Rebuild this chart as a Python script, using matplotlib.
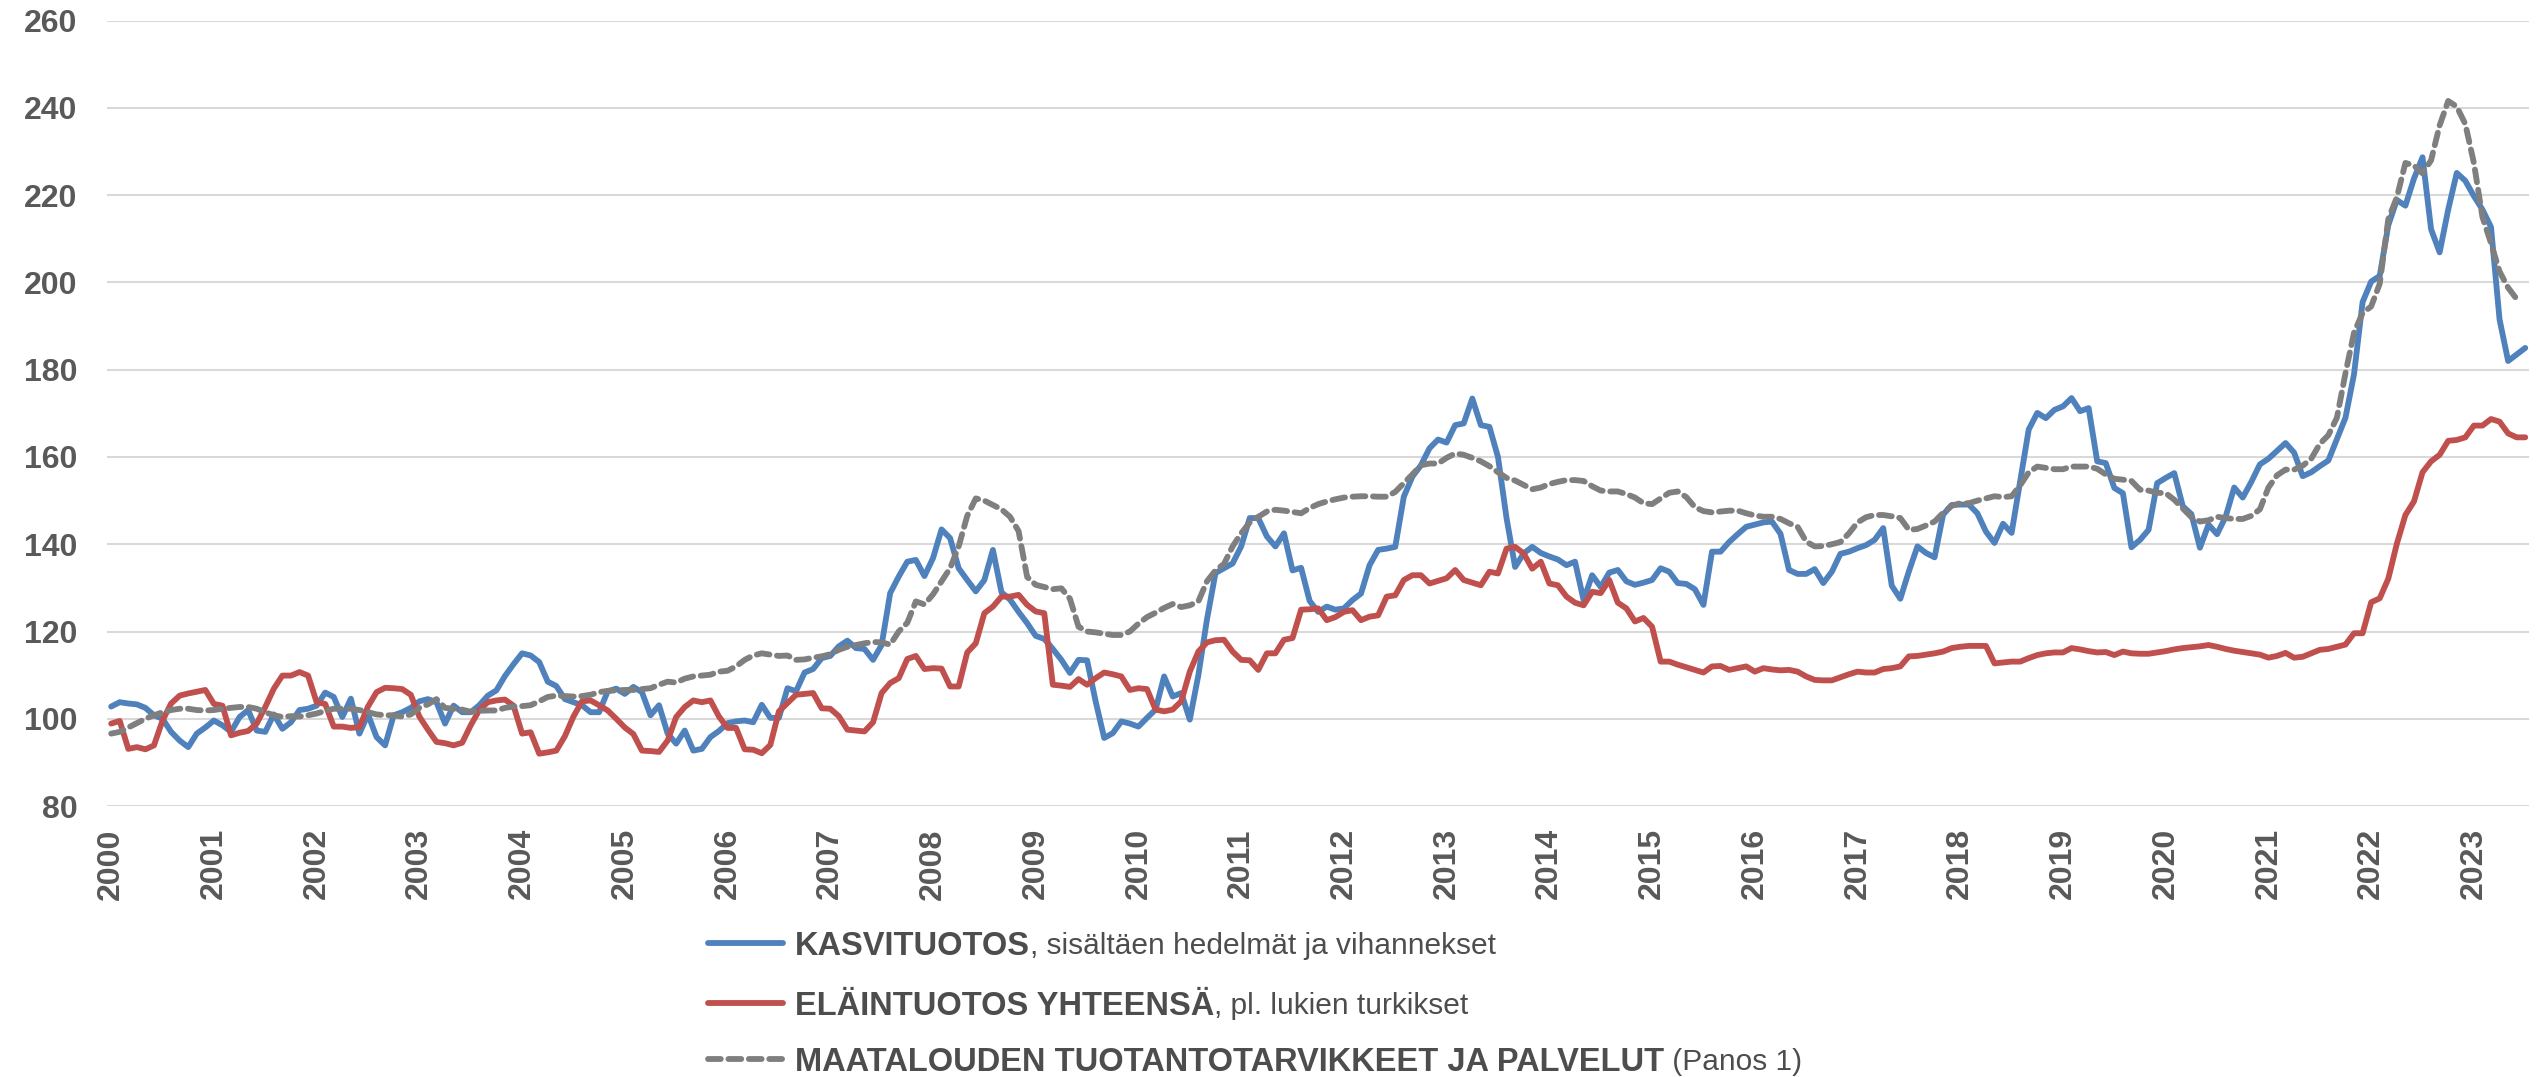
#!/usr/bin/env python

# Agricultural price indices, monthly 2000 -> 2023

import matplotlib
matplotlib.use('Agg')
import matplotlib.pyplot as plt
from matplotlib.lines import Line2D

# Crop output, incl. fruit and vegetables
kasvi = [
    102.8, 103.8, 103.5, 103.3, 102.5, 100.8, 100.0, 97.0, 95.0, 93.5, 96.6, 98.0,
    99.6, 98.5, 97.0, 100.4, 102.0, 97.3, 97.0, 101.0, 97.7, 99.2, 102.0, 102.3,
    103.0, 106.0, 105.0, 100.4, 104.6, 96.6, 101.0, 95.8, 93.9, 100.8, 101.5, 102.5,
    104.0, 104.5, 103.8, 98.9, 103.0, 101.5, 101.5, 103.1, 105.3, 106.5, 109.8, 112.5,
    115.0, 114.5, 113.0, 108.5, 107.5, 104.5, 103.8, 103.1, 101.5, 101.5, 106.3, 106.9,
    105.7, 107.3, 106.1, 100.8, 103.1, 96.6, 94.3, 97.3, 92.7, 93.1, 95.8, 97.2,
    99.0, 99.4, 99.6, 99.2, 103.2, 100.2, 100.2, 107.0, 106.3, 110.6, 111.4, 113.9,
    114.4, 116.6, 117.9, 116.2, 116.0, 113.5, 116.9, 128.8, 132.6, 136.0, 136.4, 132.7,
    136.8, 143.4, 141.4, 134.5, 131.8, 129.2, 131.8, 138.7, 129.0, 127.3, 124.5, 121.9,
    119.0, 118.3, 116.0, 113.5, 110.5, 113.5, 113.4, 104.0, 95.6, 96.7, 99.4, 98.9,
    98.2, 100.2, 102.1, 109.7, 105.1, 105.9, 99.8, 110.0, 122.7, 133.4, 134.5, 135.6,
    139.5, 146.0, 146.0, 141.8, 139.5, 142.5, 134.0, 134.6, 127.0, 124.5, 125.7, 125.0,
    125.3, 127.2, 128.7, 135.2, 138.7, 139.0, 139.4, 150.9, 155.5, 158.1, 162.0, 164.0,
    163.3, 167.3, 167.7, 173.4, 167.3, 166.9, 160.0, 146.0, 134.8, 137.9, 139.4, 138.0,
    137.2, 136.5, 135.2, 136.0, 127.2, 132.9, 130.2, 133.5, 134.1, 131.5, 130.7, 131.2,
    131.8, 134.5, 133.7, 131.1, 130.9, 129.7, 126.1, 138.3, 138.3, 140.5, 142.3, 144.0,
    144.5, 145.0, 145.2, 142.4, 134.1, 133.2, 133.2, 134.3, 131.1, 133.7, 137.8, 138.3,
    139.1, 139.8, 141.0, 143.7, 130.5, 127.5, 133.8, 139.5, 138.0, 137.0, 146.8, 149.0,
    149.1, 149.1, 147.1, 142.9, 140.3, 144.7, 142.6, 154.4, 166.3, 170.1, 168.9, 170.8,
    171.6, 173.5, 170.5, 171.2, 159.0, 158.6, 152.9, 151.7, 139.3, 141.0, 143.3, 154.0,
    155.2, 156.3, 148.7, 146.9, 139.2, 144.5, 142.3, 146.3, 153.0, 150.7, 154.3, 158.3,
    159.6, 161.4, 163.2, 161.0, 155.6, 156.5, 157.9, 159.2, 164.1, 169.0, 179.0, 195.5,
    200.2, 201.5, 213.1, 218.9, 217.6, 223.8, 228.7, 212.2, 206.9, 216.7, 225.1, 223.3,
    219.8, 216.7, 212.7, 191.5, 182.0, 183.5, 185.0,
]

# Livestock output total, excl. furs
elain = [
    98.9, 99.5, 93.1, 93.5, 93.0, 93.9, 99.6, 103.5, 105.3, 105.8, 106.2, 106.6,
    103.4, 103.0, 96.2, 96.8, 97.2, 98.9, 102.7, 106.9, 109.9, 109.9, 110.7, 109.9,
    103.8, 103.4, 98.2, 98.2, 97.9, 98.1, 102.8, 106.1, 107.1, 107.0, 106.8, 105.5,
    100.5, 97.5, 94.7, 94.4, 93.9, 94.5, 98.5, 102.0, 103.8, 104.2, 104.4, 103.0,
    96.6, 96.9, 92.0, 92.3, 92.7, 96.0, 100.5, 104.0, 104.2, 103.1, 101.9, 100.0,
    98.0, 96.5, 92.7, 92.6, 92.4, 95.0, 100.4, 102.7, 104.2, 103.8, 104.2, 100.5,
    97.9, 97.9, 93.0, 92.9, 92.1, 94.0, 101.7, 103.6, 105.5, 105.7, 105.9, 102.4,
    102.3, 100.6, 97.5, 97.3, 97.1, 99.2, 105.9, 108.2, 109.3, 113.7, 114.4, 111.4,
    111.6, 111.5, 107.4, 107.4, 115.2, 117.3, 124.2, 125.7, 128.0, 128.0, 128.4, 126.1,
    124.6, 124.2, 107.8, 107.6, 107.3, 109.1, 107.8, 109.3, 110.6, 110.2, 109.7, 106.6,
    107.0, 106.8, 102.1, 101.7, 102.1, 104.0, 110.8, 115.4, 117.5, 118.0, 118.1, 115.4,
    113.5, 113.4, 111.2, 115.0, 115.0, 118.1, 118.5, 125.0, 125.1, 125.3, 122.6, 123.3,
    124.5, 124.9, 122.6, 123.4, 123.7, 128.0, 128.3, 131.8, 132.9, 132.9, 131.0, 131.6,
    132.2, 134.1, 131.8, 131.2, 130.6, 133.7, 133.3, 139.0, 139.4, 137.9, 134.4, 136.0,
    131.0, 130.6, 128.0, 126.6, 126.0, 129.1, 128.8, 131.8, 126.6, 125.3, 122.3, 123.1,
    121.1, 113.1, 113.1, 112.4, 111.8, 111.2, 110.6, 112.0, 112.1, 111.2, 111.6, 112.0,
    110.8, 111.6, 111.3, 111.1, 111.2, 110.8, 109.7, 108.9, 108.8, 108.8, 109.5, 110.2,
    110.8, 110.6, 110.6, 111.4, 111.6, 112.0, 114.3, 114.4, 114.7, 115.0, 115.4, 116.2,
    116.5, 116.7, 116.7, 116.7, 112.7, 112.9, 113.1, 113.1, 113.9, 114.6, 115.0, 115.2,
    115.2, 116.2, 115.9, 115.5, 115.2, 115.3, 114.6, 115.4, 115.0, 114.9, 114.9, 115.2,
    115.5, 115.9, 116.2, 116.4, 116.6, 116.9, 116.5, 116.0, 115.6, 115.3, 115.0, 114.7,
    114.0, 114.4, 115.1, 114.0, 114.2, 115.0, 115.8, 116.0, 116.5, 117.0, 119.6, 119.6,
    126.7, 127.6, 132.1, 140.1, 146.7, 149.8, 156.5, 159.0, 160.5, 163.7, 163.9, 164.5,
    167.2, 167.2, 168.7, 168.1, 165.4, 164.5, 164.5,
]

# Farm inputs and services (input 1)
panos = [
    96.6, 97.0, 98.0, 99.0, 100.0, 100.8, 101.5, 102.0, 102.3, 102.3, 102.0, 101.9,
    102.0, 102.3, 102.5, 102.7, 102.7, 102.3, 101.5, 100.8, 100.4, 100.6, 100.5, 100.8,
    101.2, 101.8, 102.3, 102.3, 102.3, 102.0, 101.5, 101.0, 100.8, 100.8, 100.5, 101.0,
    102.5, 103.3, 104.5, 102.5, 102.3, 102.1, 101.6, 101.8, 101.9, 101.9, 102.5, 102.8,
    102.9, 103.1, 104.0, 105.0, 105.3, 105.2, 105.1, 105.2, 105.5, 106.1, 106.4, 106.5,
    106.6, 106.6, 106.8, 107.0, 107.8, 108.5, 108.3, 109.2, 109.7, 109.9, 110.1, 110.8,
    111.0, 112.0, 113.5, 114.5, 115.0, 114.7, 114.4, 114.5, 113.5, 113.6, 114.0, 114.3,
    114.8, 115.8, 116.5, 116.9, 117.3, 117.6, 117.5, 117.0, 120.0, 122.0, 126.9, 126.2,
    128.5, 131.5, 134.5, 139.5, 146.5, 150.5, 150.0, 149.0, 148.0, 146.3, 143.0, 132.5,
    130.7, 130.2, 129.7, 129.9, 127.5, 121.1, 120.0, 119.8, 119.5, 119.2, 119.2, 120.0,
    121.8, 123.3, 124.3, 125.4, 126.3, 125.6, 126.0, 126.9, 131.5, 134.0, 135.5, 139.5,
    142.5, 145.0, 146.3, 147.5, 147.9, 147.7, 147.4, 147.1, 148.3, 149.2, 149.8, 150.3,
    150.7, 150.9, 151.0, 151.0, 150.9, 150.9, 152.0, 154.0, 156.0, 158.1, 158.5, 158.5,
    159.8, 160.8, 160.5, 159.8, 159.0, 157.9, 156.5, 155.2, 154.6, 153.6, 152.6, 153.0,
    153.8, 154.3, 154.7, 154.7, 154.5, 153.3, 152.3, 152.1, 152.1, 151.5, 150.7, 149.4,
    149.2, 150.5, 151.8, 152.1, 150.8, 148.5, 147.6, 147.3, 147.5, 147.7, 147.7, 147.1,
    146.6, 146.3, 146.3, 145.8, 144.8, 144.0, 140.6, 139.5, 139.6, 140.0, 140.5, 142.5,
    145.0, 146.2, 146.7, 146.7, 146.4, 146.0, 143.3, 143.5, 144.3, 145.2, 147.2, 148.8,
    149.4, 149.4, 150.0, 150.5, 151.0, 150.8, 151.0, 153.5, 156.5, 157.8, 157.5, 157.2,
    157.2, 157.8, 157.8, 157.8, 157.3, 156.0, 155.0, 154.8, 154.5, 152.5, 152.3, 151.8,
    151.7, 150.2, 148.2, 146.2, 145.2, 145.5, 146.3, 146.0, 145.8, 145.8, 146.5, 148.0,
    153.0, 155.8, 157.1, 157.1, 158.0, 159.6, 163.0, 165.0, 169.0, 179.2, 188.5, 193.0,
    194.5, 199.7, 214.5, 219.5, 227.4, 226.8, 225.0, 228.0, 236.0, 241.6, 240.3, 236.3,
    227.4, 215.0, 209.0, 202.5, 198.8, 196.2,
]

years = list(range(2000, 2024))
# legend labels: upper-case part (bold), rest (normal)
labels = [('KASVITUOTOS', ', sisältäen hedelmät ja vihannekset'),
          ('ELÄINTUOTOS YHTEENSÄ', ', pl. lukien turkikset'),
          ('MAATALOUDEN TUOTANTOTARVIKKEET JA PALVELUT', ' (Panos 1)')]

blue = '#4f81bd'
red = '#c0504d'
grey = '#7f7f7f'
text_col = '#595959'
dash = (0, (2.2, 1.3))

plt.rcParams['font.family'] = ['Liberation Sans', 'DejaVu Sans']

fig = plt.figure(figsize=(25.39, 10.77), dpi=100, facecolor='white')
ax = fig.add_axes([0.0421, 0.2516, 0.954, 0.7292])

lw = 4.2
ax.plot(range(len(kasvi)), kasvi, color=blue, lw=lw,
        solid_joinstyle='round', solid_capstyle='round', zorder=3)
ax.plot(range(len(elain)), elain, color=red, lw=lw,
        solid_joinstyle='round', solid_capstyle='round', zorder=3)
ax.plot(range(len(panos)), panos, color=grey, lw=lw, linestyle=dash,
        dash_capstyle='round', dash_joinstyle='round', zorder=4)

ax.set_ylim(80, 260)
ax.set_yticks(range(80, 261, 20))
ax.set_xlim(-0.5, 282.45)
ax.set_xticks([12 * i for i in range(len(years))])
ax.set_xticklabels([str(y) for y in years], rotation=90)

ax.grid(axis='y', color='#d9d9d9', lw=1.5, zorder=0)
ax.grid(axis='x', visible=False)
for s in ax.spines.values():
    s.set_visible(False)
ax.tick_params(axis='both', length=0, labelsize=23, labelcolor=text_col)
ax.tick_params(axis='y', pad=21)
ax.tick_params(axis='x', pad=16)
for t in ax.get_xticklabels() + ax.get_yticklabels():
    t.set_fontweight('bold')

# Hand-built legend below the plot so each label can mix weights
styles = [dict(color=blue, lw=lw, solid_capstyle='round'),
          dict(color=red, lw=lw, solid_capstyle='round'),
          dict(color=grey, lw=lw, linestyle=dash, dash_capstyle='round')]
rows_y = [0.1245, 0.0690, 0.0165]
hx0, hx1, tx = 0.2790, 0.3085, 0.3131
leg_col = '#4d4d4d'

renderer = fig.canvas.get_renderer()
for (bold, rest), st, y in zip(labels, styles, rows_y):
    fig.add_artist(Line2D([hx0, hx1], [y, y], transform=fig.transFigure, **st))
    t1 = fig.text(tx, y, bold, fontsize=23.5, fontweight='bold',
                  color=leg_col, va='center_baseline', ha='left')
    bb = t1.get_window_extent(renderer=renderer)
    x2 = fig.transFigure.inverted().transform((bb.x1, bb.y0))[0]
    fig.text(x2, y, rest, fontsize=21.5, fontweight='normal',
             color=leg_col, va='center_baseline', ha='left')

fig.savefig('out.png', dpi=100, facecolor='white')
